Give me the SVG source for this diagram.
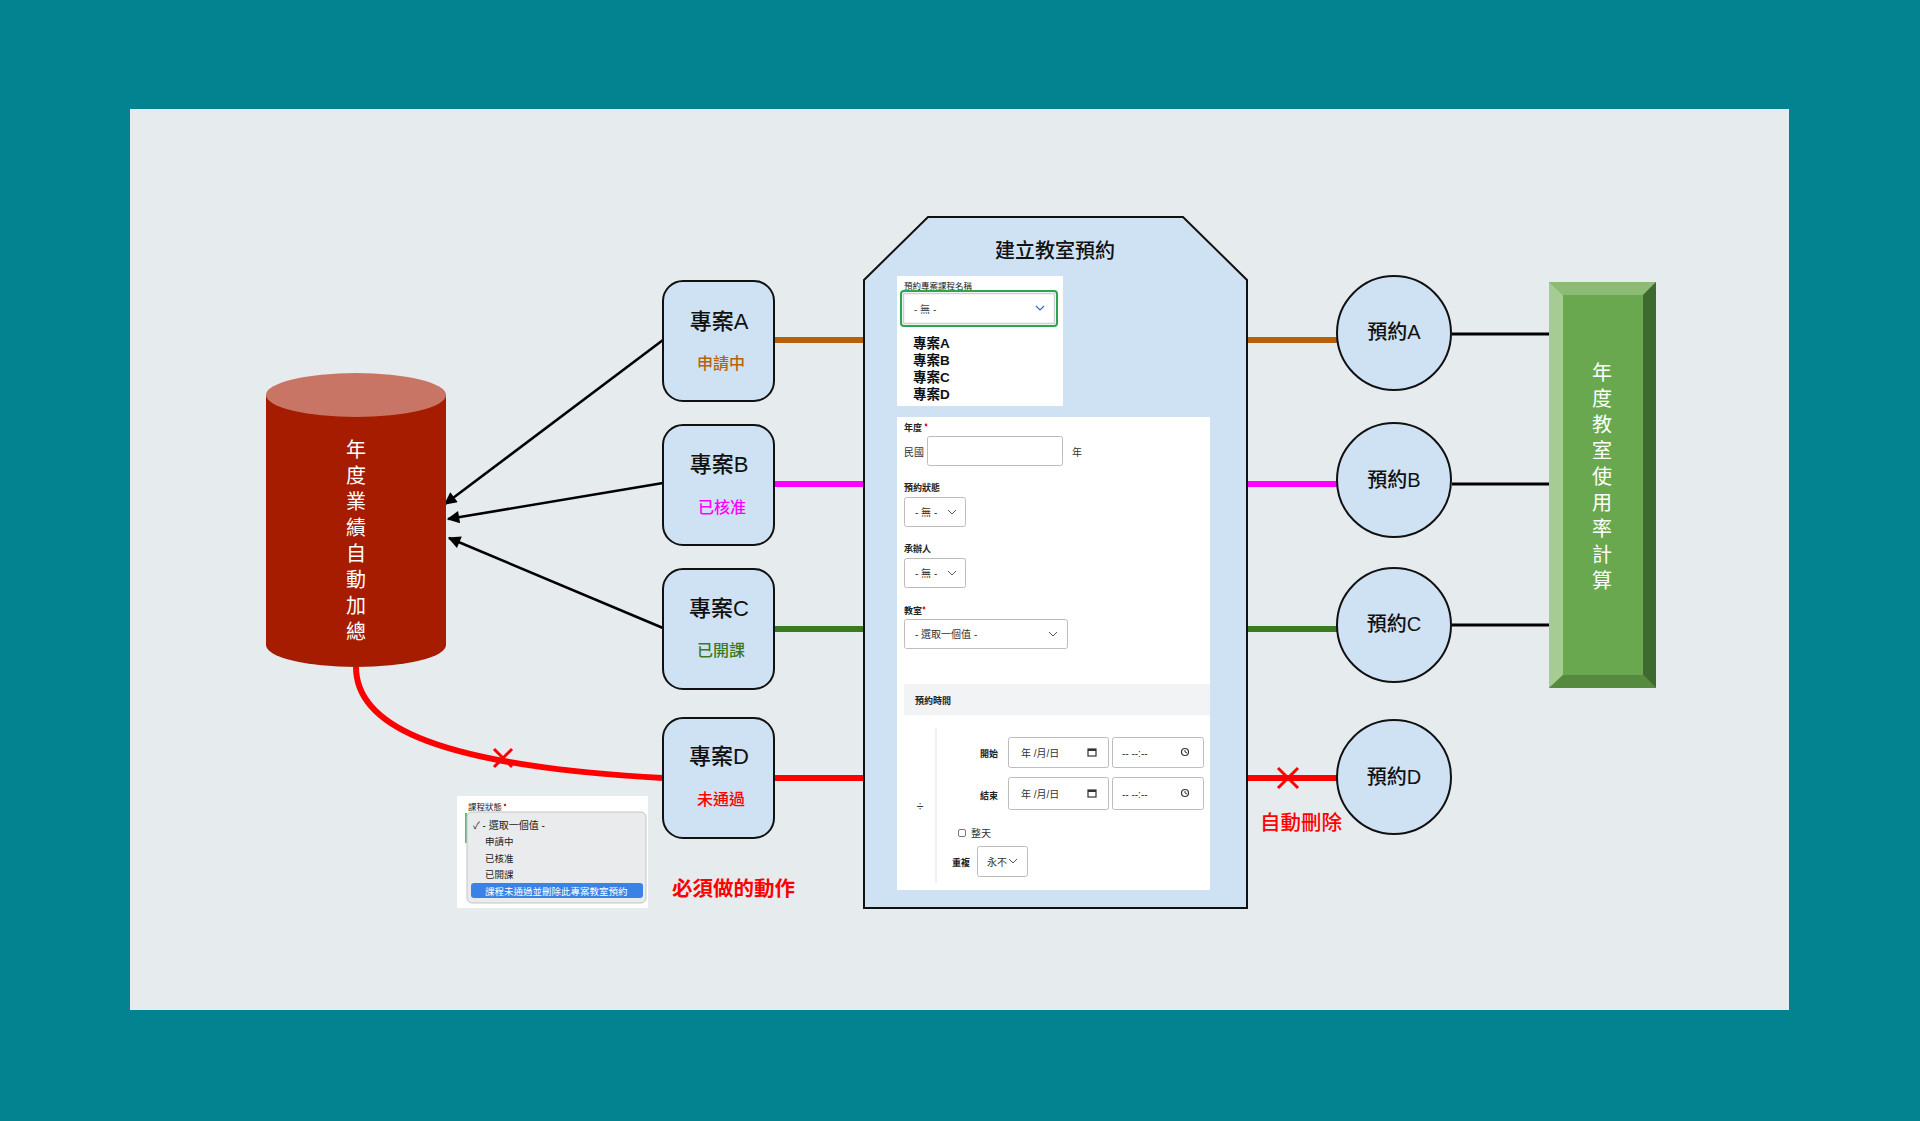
<svg xmlns="http://www.w3.org/2000/svg" width="1920" height="1121" viewBox="0 0 1920 1121">
<defs>
<style>
text{font-family:"Liberation Sans","Noto Sans CJK TC",sans-serif;}
.proj{fill:#CFE2F3;stroke:#111;stroke-width:2;}
.name{font-size:22px;font-weight:500;fill:#111;text-anchor:middle;}
.stat{font-size:16px;font-weight:500;text-anchor:middle;}
.circ{fill:#CFE2F3;stroke:#111;stroke-width:2;}
.ctext{font-size:20px;font-weight:500;fill:#111;text-anchor:middle;}
.vt{font-size:20px;fill:#fff;text-anchor:middle;}
.lbl{font-size:9px;font-weight:bold;fill:#222;}
.ft{font-size:10px;fill:#333;}
.box{fill:#fff;stroke:#bdbdbd;stroke-width:1;}
.chev{fill:none;stroke:#555;stroke-width:1;}
.arrow{stroke:#000;stroke-width:2.5;fill:none;}
.red{stroke:#FF0000;stroke-width:6;fill:none;}
</style>
<marker id="ah" viewBox="0 0 10 10" refX="9" refY="5" markerWidth="6.5" markerHeight="5" orient="auto" markerUnits="strokeWidth">
<path d="M0,0 L10,5 L0,10 z" fill="#000"/>
</marker>
</defs>
<rect x="0" y="0" width="1920" height="1121" fill="#02838F"/>
<rect x="130" y="109" width="1659" height="901" fill="#E6EBEE"/>

<g id="connectors">
<line x1="774" y1="340" x2="865" y2="340" stroke="#B5610A" stroke-width="6"/>
<line x1="774" y1="484" x2="865" y2="484" stroke="#FF00FF" stroke-width="6"/>
<line x1="774" y1="629" x2="865" y2="629" stroke="#3B7A1E" stroke-width="6"/>
<line x1="774" y1="778" x2="865" y2="778" class="red"/>
<line x1="1247" y1="340" x2="1337" y2="340" stroke="#B5610A" stroke-width="6"/>
<line x1="1247" y1="484" x2="1337" y2="484" stroke="#FF00FF" stroke-width="6"/>
<line x1="1247" y1="629" x2="1337" y2="629" stroke="#3B7A1E" stroke-width="6"/>
<line x1="1247" y1="778" x2="1337" y2="778" class="red"/>
<line x1="1452" y1="334" x2="1550" y2="334" stroke="#000" stroke-width="3"/>
<line x1="1452" y1="484" x2="1550" y2="484" stroke="#000" stroke-width="3"/>
<line x1="1452" y1="625" x2="1550" y2="625" stroke="#000" stroke-width="3"/>
<line x1="663" y1="340" x2="445" y2="504" class="arrow" marker-end="url(#ah)"/>
<line x1="663" y1="483" x2="448" y2="519" class="arrow" marker-end="url(#ah)"/>
<line x1="663" y1="628" x2="449" y2="538" class="arrow" marker-end="url(#ah)"/>
<path d="M356,667 C356,720 420,765 663,778" class="red"/>
<path d="M494,749 L512,767 M512,749 L494,767" stroke="#FF0000" stroke-width="3"/>
<path d="M1278,768 L1298,788 M1298,768 L1278,788" stroke="#FF0000" stroke-width="3"/>
</g>

<g id="cylinder">
<path d="M266,395 L266,645 A90,22 0 0 0 446,645 L446,395 Z" fill="#A51C00"/>
<ellipse cx="356" cy="395" rx="90" ry="22" fill="#C87566"/>
<text class="vt" x="356" y="457">年</text>
<text class="vt" x="356" y="483">度</text>
<text class="vt" x="356" y="509">業</text>
<text class="vt" x="356" y="535">績</text>
<text class="vt" x="356" y="561">自</text>
<text class="vt" x="356" y="587">動</text>
<text class="vt" x="356" y="613">加</text>
<text class="vt" x="356" y="639">總</text>
</g>

<g id="projA">
<rect class="proj" x="663" y="281" width="111" height="120" rx="20"/>
<text class="name" x="719" y="329">專案A</text>
<text class="stat" x="721" y="369" fill="#B8620A">申請中</text>
</g>
<g id="projB">
<rect class="proj" x="663" y="425" width="111" height="120" rx="20"/>
<text class="name" x="719" y="472">專案B</text>
<text class="stat" x="722" y="513" fill="#FF00FF">已核准</text>
</g>
<g id="projC">
<rect class="proj" x="663" y="569" width="111" height="120" rx="20"/>
<text class="name" x="719" y="616">專案C</text>
<text class="stat" x="721" y="656" fill="#3B7A1E">已開課</text>
</g>
<g id="projD">
<rect class="proj" x="663" y="718" width="111" height="120" rx="20"/>
<text class="name" x="719" y="764">專案D</text>
<text class="stat" x="721" y="805" fill="#FF0000">未通過</text>
</g>

<g id="form">
<polygon points="928,217 1183,217 1247,280 1247,908 864,908 864,280" fill="#CFE2F3" stroke="#111" stroke-width="2"/>
<text x="1055" y="258" font-size="20" font-weight="500" fill="#111" text-anchor="middle">建立教室預約</text>
<rect x="897" y="276" width="166" height="130" fill="#fff"/>
<text x="904" y="289" font-size="8.5" fill="#222">預約專案課程名稱</text>
<rect x="901" y="291" width="156" height="35" rx="3" fill="#fff" stroke="#2DA44E" stroke-width="2"/>
<rect x="903.5" y="293.5" width="151" height="30" rx="1" fill="#fff" stroke="#cfcfcf" stroke-width="1.5"/>
<text x="914" y="313" font-size="10" fill="#444">- 無 -</text>
<polyline points="1036,306 1040,310 1044,306" fill="none" stroke="#3366CC" stroke-width="1.2"/>
<text x="913" y="348" font-size="13.5" font-weight="bold" fill="#111">專案A</text>
<text x="913" y="365" font-size="13.5" font-weight="bold" fill="#111">專案B</text>
<text x="913" y="382" font-size="13.5" font-weight="bold" fill="#111">專案C</text>
<text x="913" y="399" font-size="13.5" font-weight="bold" fill="#111">專案D</text>

<rect x="897" y="417" width="313" height="473" fill="#fff"/>
<text class="lbl" x="904" y="431">年度</text>
<circle cx="926" cy="425" r="1.4" fill="#E02020"/>
<text class="ft" x="904" y="456">民國</text>
<rect class="box" x="927.5" y="436.5" width="135" height="29" rx="2"/>
<text class="ft" x="1072" y="456">年</text>

<text class="lbl" x="904" y="491">預約狀態</text>
<rect class="box" x="904.5" y="497.5" width="61" height="29" rx="2"/>
<text class="ft" x="915" y="516">- 無 -</text>
<polyline class="chev" points="948,510 952,514 956,510"/>

<text class="lbl" x="904" y="552">承辦人</text>
<rect class="box" x="904.5" y="558.5" width="61" height="29" rx="2"/>
<text class="ft" x="915" y="577">- 無 -</text>
<polyline class="chev" points="948,571 952,575 956,571"/>

<text class="lbl" x="904" y="614">教室</text>
<circle cx="924" cy="608" r="1.4" fill="#E02020"/>
<rect class="box" x="904.5" y="619.5" width="163" height="29" rx="2"/>
<text class="ft" x="915" y="638">- 選取一個值 -</text>
<polyline class="chev" points="1049,632 1053,636 1057,632"/>

<rect x="904" y="684" width="306" height="31" fill="#F1F3F5"/>
<text class="lbl" x="915" y="704" font-size="9.5">預約時間</text>
<line x1="936" y1="728" x2="936" y2="883" stroke="#e0e0e0" stroke-width="1"/>
<text x="920" y="811" font-size="12" fill="#333" text-anchor="middle">÷</text>

<text class="lbl" x="998" y="757" text-anchor="end">開始</text>
<rect class="box" x="1008.5" y="737.5" width="100" height="30" rx="2"/>
<text class="ft" x="1021" y="757">年 /月/日</text>
<rect x="1088" y="749" width="8" height="7" fill="none" stroke="#333" stroke-width="1.2"/>
<line x1="1088" y1="750" x2="1096" y2="750" stroke="#333" stroke-width="2"/>
<rect class="box" x="1112.5" y="737.5" width="91" height="30" rx="2"/>
<text class="ft" x="1122" y="757">-- --:--</text>
<circle cx="1185" cy="752" r="3.5" fill="none" stroke="#333" stroke-width="1.2"/>
<polyline points="1185,750 1185,752 1187,753" fill="none" stroke="#333" stroke-width="1"/>

<text class="lbl" x="998" y="799" text-anchor="end">結束</text>
<rect class="box" x="1008.5" y="777.5" width="100" height="32" rx="2"/>
<text class="ft" x="1021" y="798">年 /月/日</text>
<rect x="1088" y="790" width="8" height="7" fill="none" stroke="#333" stroke-width="1.2"/>
<line x1="1088" y1="791" x2="1096" y2="791" stroke="#333" stroke-width="2"/>
<rect class="box" x="1112.5" y="777.5" width="91" height="32" rx="2"/>
<text class="ft" x="1122" y="798">-- --:--</text>
<circle cx="1185" cy="793" r="3.5" fill="none" stroke="#333" stroke-width="1.2"/>
<polyline points="1185,791 1185,793 1187,794" fill="none" stroke="#333" stroke-width="1"/>

<rect x="958.5" y="829.5" width="7" height="7" rx="1.5" fill="#fff" stroke="#777" stroke-width="1"/>
<text class="ft" x="971" y="837">整天</text>
<text class="lbl" x="970" y="866" text-anchor="end">重複</text>
<rect class="box" x="977.5" y="846.5" width="50" height="30" rx="2"/>
<text class="ft" x="987" y="866">永不</text>
<polyline class="chev" points="1009,859 1013,863 1017,859"/>
</g>

<g id="dropdown">
<rect x="457" y="796" width="191" height="112" fill="#fff"/>
<text x="468" y="810" font-size="8.5" fill="#222">課程狀態</text>
<circle cx="505" cy="805" r="1.3" fill="#E02020"/>
<line x1="466" y1="813" x2="466" y2="843" stroke="#2DA44E" stroke-width="1.5"/>
<rect x="467" y="812" width="179" height="91" rx="5" fill="#E9EBED" stroke="#c4c4c4" stroke-width="1"/>
<text x="473" y="829" font-size="10" fill="#222">✓ - 選取一個值 -</text>
<text x="485" y="845" font-size="9.5" fill="#222">申請中</text>
<text x="485" y="862" font-size="9.5" fill="#222">已核准</text>
<text x="485" y="878" font-size="9.5" fill="#222">已開課</text>
<rect x="471" y="883" width="172" height="15" rx="3" fill="#3B82E6"/>
<text x="485" y="894.5" font-size="9.5" fill="#fff">課程未通過並刪除此專案教室預約</text>
</g>
<text id="must" x="672" y="896" font-size="20.5" font-weight="bold" fill="#FF0000">必須做的動作</text>

<g id="resA">
<circle class="circ" cx="1394" cy="333" r="57"/>
<text class="ctext" x="1394" y="339">預約A</text>
</g>
<g id="resB">
<circle class="circ" cx="1394" cy="480" r="57"/>
<text class="ctext" x="1394" y="487">預約B</text>
</g>
<g id="resC">
<circle class="circ" cx="1394" cy="625" r="57"/>
<text class="ctext" x="1394" y="631">預約C</text>
</g>
<g id="resD">
<circle class="circ" cx="1394" cy="777" r="57"/>
<text class="ctext" x="1394" y="784">預約D</text>
</g>
<text id="autodel" x="1260" y="830" font-size="20.5" font-weight="500" fill="#FF0000">自動刪除</text>

<g id="usage">
<rect x="1549" y="282" width="107" height="406" fill="#6AA84F"/>
<polygon points="1549,282 1656,282 1643,295 1563,295" fill="#8BBB75"/>
<polygon points="1549,282 1563,295 1563,675 1549,688" fill="#A6CC94"/>
<polygon points="1656,282 1656,688 1643,675 1643,295" fill="#3F6A2F"/>
<polygon points="1549,688 1563,675 1643,675 1656,688" fill="#568B3F"/>
<text class="vt" x="1602" y="380">年</text>
<text class="vt" x="1602" y="406">度</text>
<text class="vt" x="1602" y="432">教</text>
<text class="vt" x="1602" y="458">室</text>
<text class="vt" x="1602" y="484">使</text>
<text class="vt" x="1602" y="510">用</text>
<text class="vt" x="1602" y="536">率</text>
<text class="vt" x="1602" y="562">計</text>
<text class="vt" x="1602" y="588">算</text>
</g>
</svg>
